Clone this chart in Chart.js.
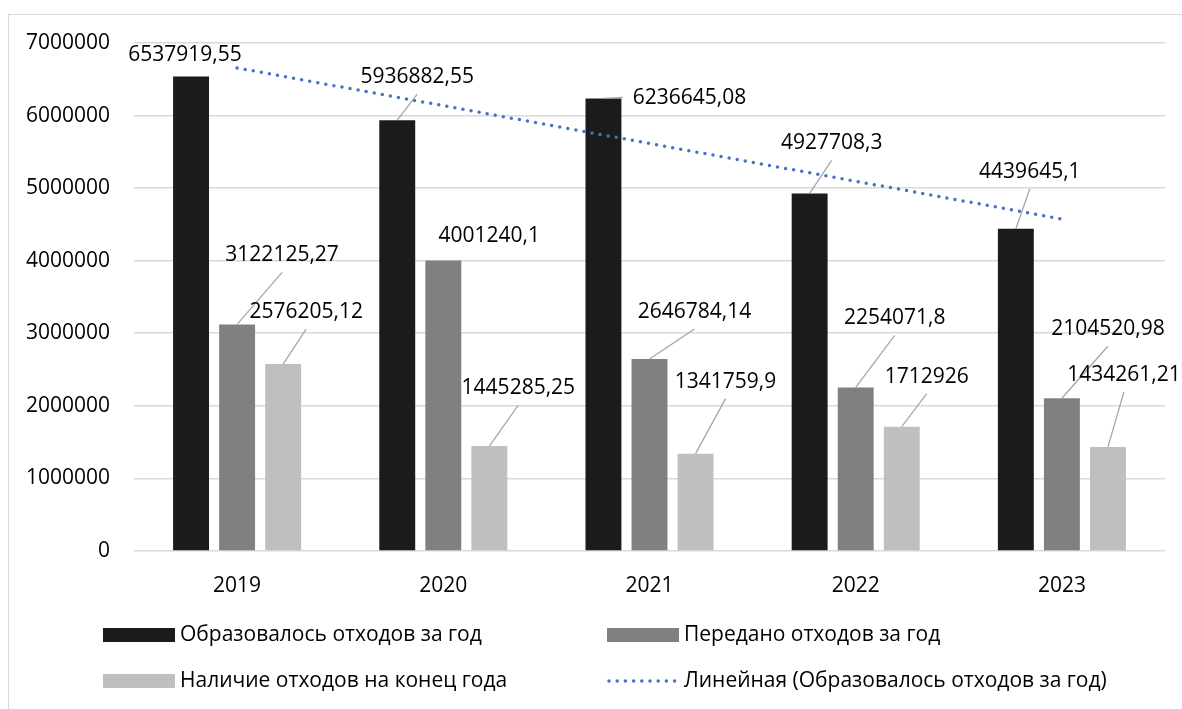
<!DOCTYPE html>
<html lang="ru">
<head>
<meta charset="utf-8">
<title>Отходы 2019–2023</title>
<script src="https://cdn.jsdelivr.net/npm/chart.js@4.4.1/dist/chart.umd.min.js"></script>
<style>
  html, body { margin: 0; padding: 0; background: #fff; }
  #wrap { width: 1182px; height: 709px; }
</style>
</head>
<body>
<div id="wrap"><canvas id="chart" width="1182" height="709"></canvas></div>
<script>
// Years and yearly values (tonnes)
const years = ['2019', '2020', '2021', '2022', '2023'];
const formed = [6537919.55, 5936882.55, 6236645.08, 4927708.3, 4439645.1];
const transferred = [3122125.27, 4001240.1, 2646784.14, 2254071.8, 2104520.98];
const remaining = [2576205.12, 1445285.25, 1341759.9, 1712926, 1434261.21];
// linear trend line for "formed"
const formedTrend = [6656905, 6136333, 5615760, 5095188, 4574615];
const yTicks = [0, 1000000, 2000000, 3000000, 4000000, 5000000, 6000000, 7000000];

const seriesNames = [
    'Образовалось отходов за год',
    'Передано отходов за год',
    'Наличие отходов на конец года',
    'Линейная (Образовалось отходов за год)'
];

// where each value label sits relative to the top of its bar: [dx, dy, leader line?]
const labelShift = [
    [[-6, -22, false], [20, -43, true], [86, 0, true], [22, -50, true], [14, -57, true]],
    [[45, -69, true], [46, -25, false], [45, -47, true], [39, -69, true], [46, -69, true]],
    [[23, -52, true], [29, -58, true], [30, -72, true], [25, -50, true], [16, -72, true]]
];

const FONT = '"Open Sans", sans-serif';
const FONT_SIZE = 21;
const TEXT = '#000000';
const TREND_BLUE = '#4472c4';

function fmt(v) {
    return String(v).replace('.', ',');
}

// light frame along the top and left of the chart
const framePlugin = {
    id: 'frame',
    beforeDraw(chart) {
        const ctx = chart.ctx;
        ctx.save();
        ctx.strokeStyle = '#d9d9d9';
        ctx.lineWidth = 1;
        ctx.strokeRect(8.5, 14.5, 1200, 720);
        ctx.restore();
    }
};

// value labels with leader lines
const valueLabels = {
    id: 'valueLabels',
    afterDatasetsDraw(chart) {
        const ctx = chart.ctx;
        ctx.save();
        ctx.font = FONT_SIZE + 'px ' + FONT;
        ctx.textAlign = 'center';
        ctx.textBaseline = 'middle';
        for (let d = 0; d < 3; d++) {
            const meta = chart.getDatasetMeta(d);
            const values = chart.data.datasets[d].data;
            meta.data.forEach((bar, i) => {
                const [dx, dy, leader] = labelShift[d][i];
                const text = fmt(values[i]);
                const cx = bar.x + dx;
                const cy = bar.y + dy;
                if (leader) {
                    let ex, ey;
                    if (Math.abs(dy) < 10) {
                        ex = cx - ctx.measureText(text).width / 2 - 10;
                        ey = cy - 1;
                    } else {
                        ex = cx;
                        ey = cy + 17;
                    }
                    ctx.strokeStyle = '#a6a6a6';
                    ctx.lineWidth = 1.3;
                    ctx.beginPath();
                    ctx.moveTo(bar.x, bar.y);
                    ctx.lineTo(ex, ey);
                    ctx.stroke();
                }
                ctx.fillStyle = TEXT;
                ctx.fillText(text, cx, cy);
            });
        }
        ctx.restore();
    }
};

// two-column legend under the plot
const legendGrid = {
    id: 'legendGrid',
    afterDraw(chart) {
        const ctx = chart.ctx;
        const slots = [[103, 635], [607, 635], [103, 681], [607, 681]];
        ctx.save();
        ctx.font = FONT_SIZE + 'px ' + FONT;
        ctx.textAlign = 'left';
        ctx.textBaseline = 'middle';
        chart.data.datasets.forEach((ds, k) => {
            const [x, y] = slots[k];
            if (ds.type === 'line') {
                ctx.strokeStyle = ds.borderColor;
                ctx.lineWidth = ds.borderWidth;
                ctx.lineCap = 'round';
                ctx.setLineDash(ds.borderDash);
                ctx.beginPath();
                ctx.moveTo(x + 2, y);
                ctx.lineTo(x + 72, y);
                ctx.stroke();
                ctx.setLineDash([]);
            } else {
                ctx.fillStyle = ds.backgroundColor;
                ctx.fillRect(x, y - 7, 72, 14);
            }
            ctx.fillStyle = TEXT;
            ctx.fillText(ds.label, x + 77, y);
        });
        ctx.restore();
    }
};

const tickFont = { family: FONT, size: FONT_SIZE };

new Chart(document.getElementById('chart'), {
    type: 'bar',
    data: {
        labels: years,
        datasets: [
            { label: seriesNames[0], data: formed, backgroundColor: '#1b1b1b', order: 1 },
            { label: seriesNames[1], data: transferred, backgroundColor: '#808080', order: 1 },
            { label: seriesNames[2], data: remaining, backgroundColor: '#bfbfbf', order: 1 },
            {
                type: 'line',
                label: seriesNames[3],
                data: formedTrend,
                borderColor: TREND_BLUE,
                borderWidth: 3.5,
                borderDash: [0, 8.2],
                borderCapStyle: 'round',
                pointRadius: 0,
                fill: false,
                order: 0
            }
        ]
    },
    options: {
        responsive: false,
        animation: false,
        events: [],
        datasets: {
            bar: { categoryPercentage: 0.67, barPercentage: 0.78 }
        },
        layout: { padding: { left: 0, right: 17, top: 43, bottom: 108 } },
        plugins: {
            legend: { display: false },
            tooltip: { enabled: false }
        },
        scales: {
            x: {
                grid: { display: false },
                border: { display: false },
                ticks: { font: tickFont, color: TEXT, padding: 14 },
                afterFit(scale) { scale.height = 50; }
            },
            y: {
                min: 0,
                max: 7000000,
                afterBuildTicks(scale) {
                    scale.ticks = yTicks.map(v => ({ value: v }));
                },
                ticks: {
                    font: tickFont,
                    color: TEXT,
                    padding: 24,
                    callback: v => String(v)
                },
                grid: { color: '#d9d9d9', lineWidth: 1.6, drawTicks: false },
                border: { display: false },
                afterFit(scale) { scale.width = 134; }
            }
        }
    },
    plugins: [framePlugin, valueLabels, legendGrid]
});
</script>
</body>
</html>
